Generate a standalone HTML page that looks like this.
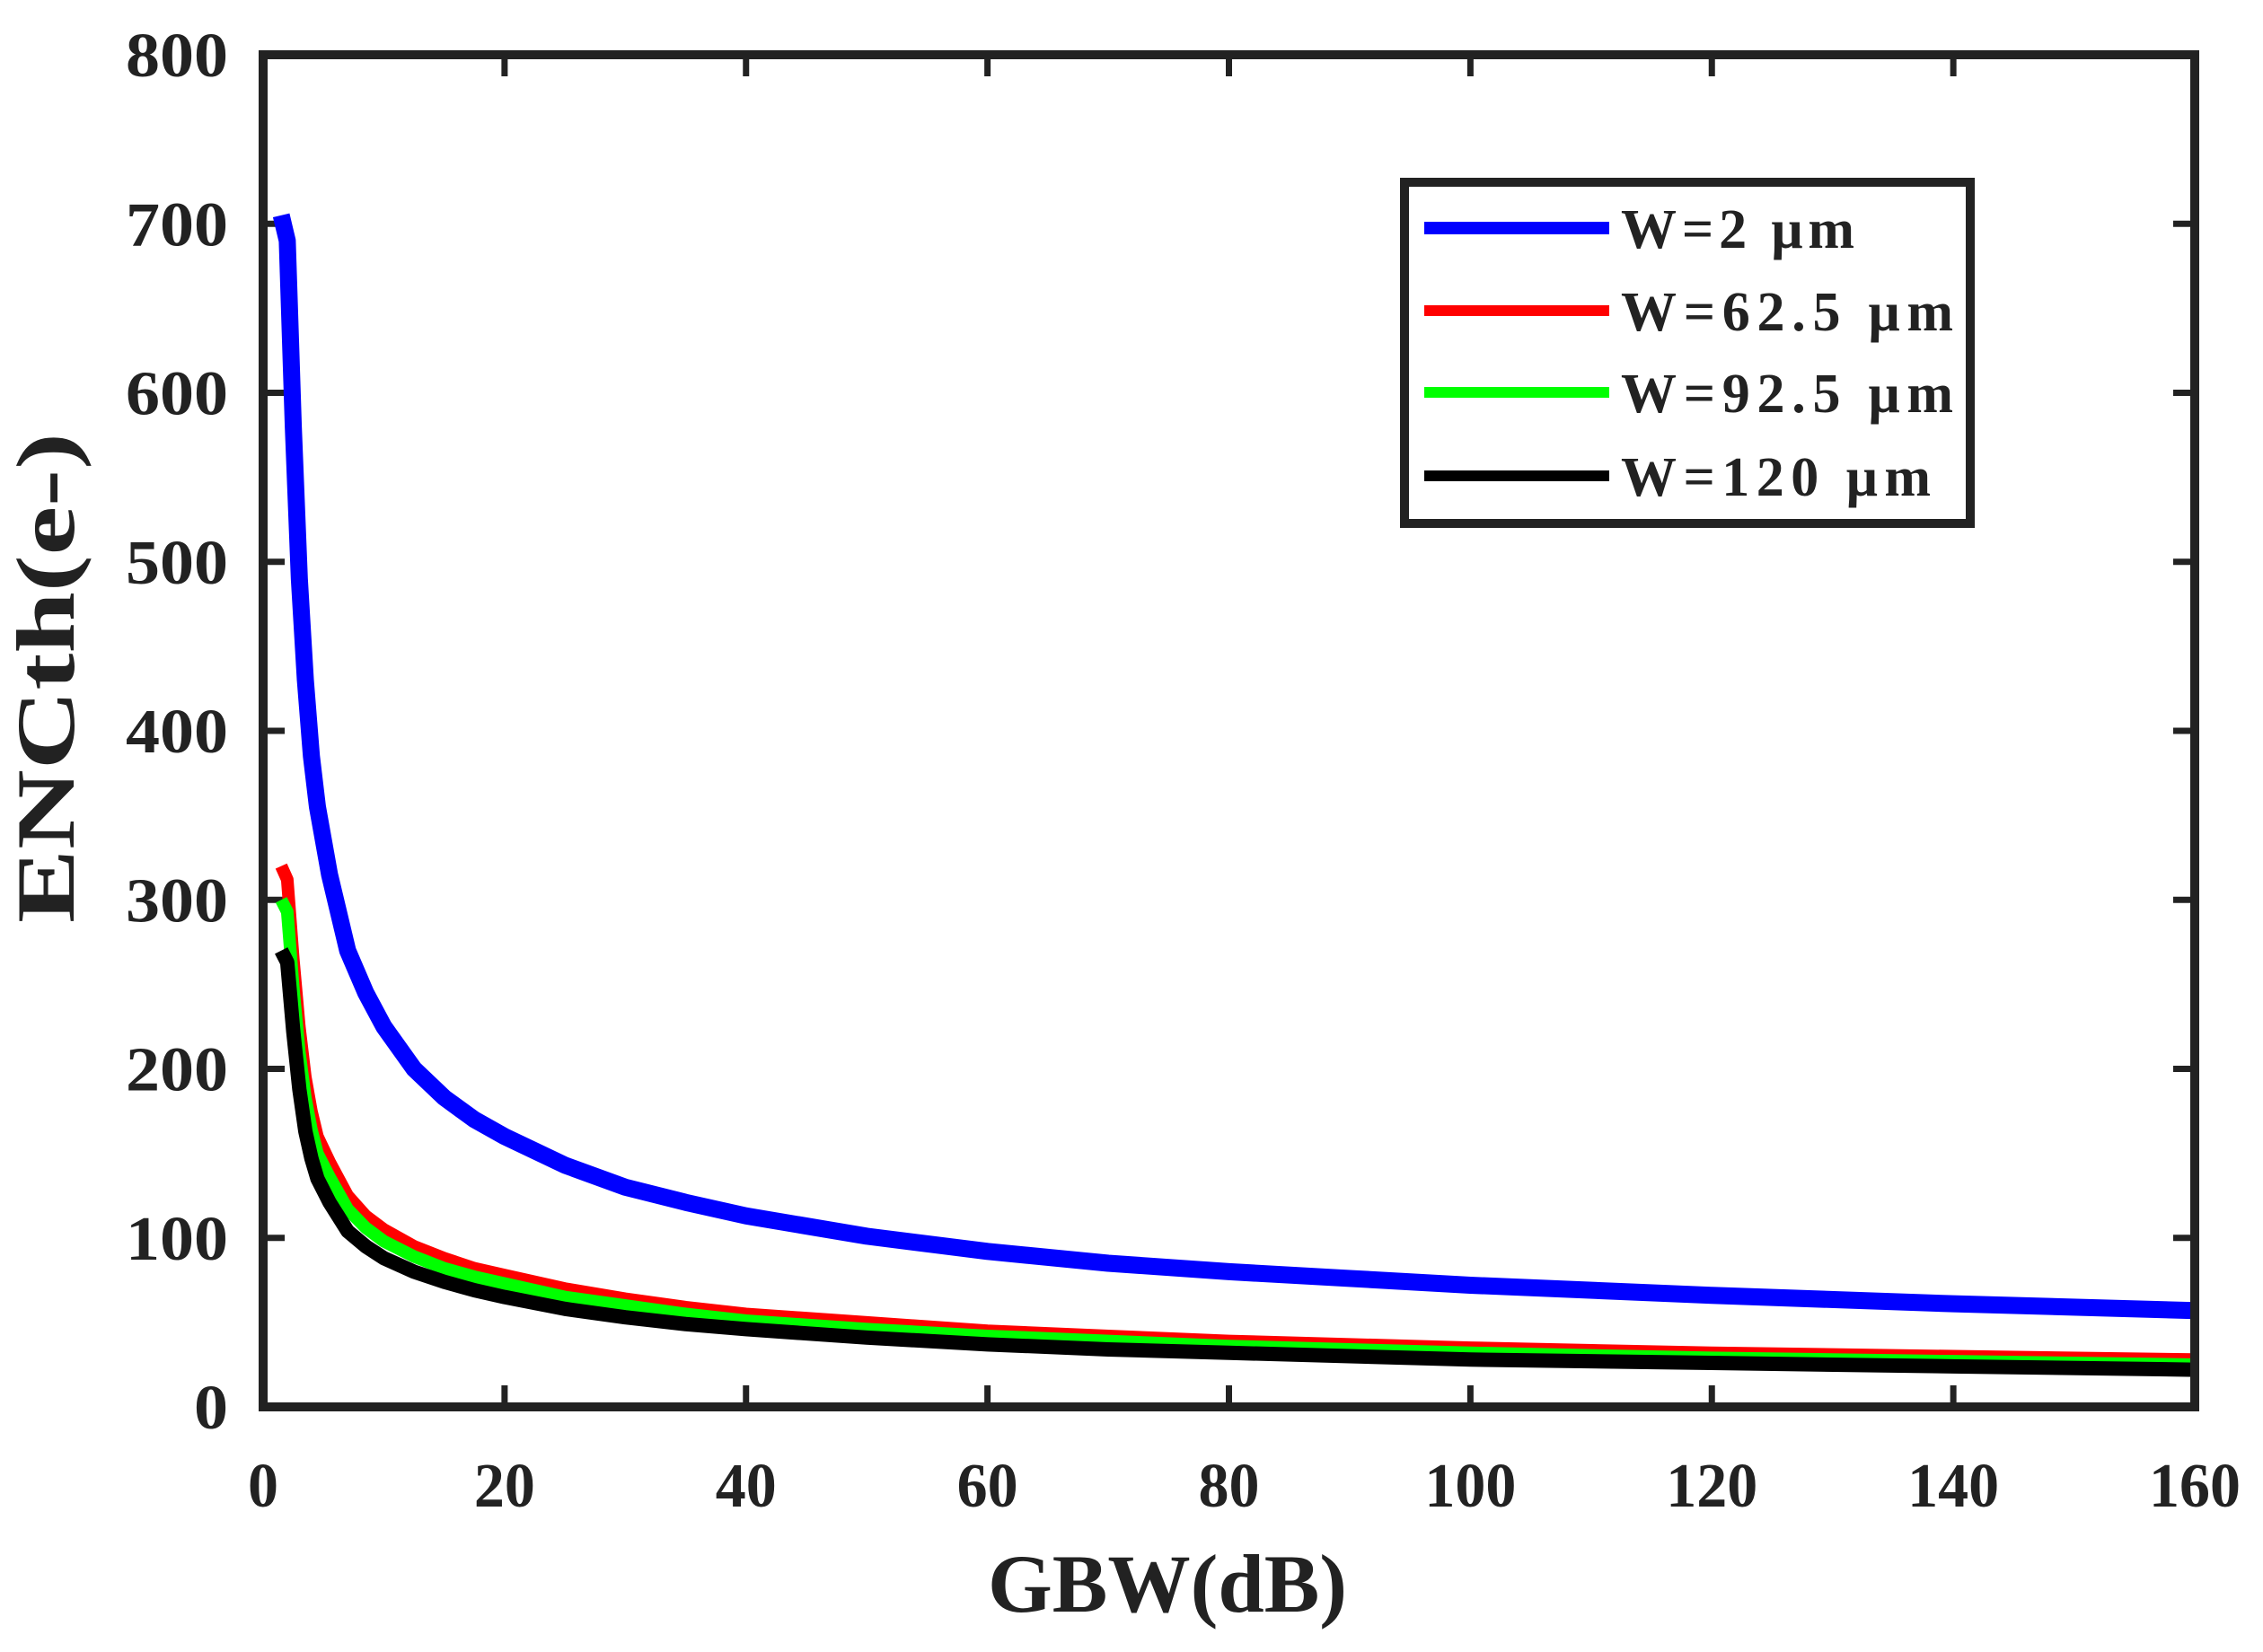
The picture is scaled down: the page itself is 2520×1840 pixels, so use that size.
<!DOCTYPE html>
<html><head><meta charset="utf-8"><style>
html,body{margin:0;padding:0;background:#fff;}
svg{display:block;}
text{font-family:"Liberation Serif",serif;font-weight:bold;fill:#222;}
</style></head><body>
<svg id="chart" width="2520" height="1840" viewBox="0 0 2520 1840">
<g id="grid"></g>
<g id="series"></g>
<g id="frame"></g>
<text x="1300" y="1795" text-anchor="middle" font-size="92" textLength="400" lengthAdjust="spacingAndGlyphs">GBW(dB)</text>
<text transform="translate(82,755) rotate(-90)" text-anchor="middle" font-size="92" textLength="546" lengthAdjust="spacingAndGlyphs">ENCth(e-)</text>
<g id="legend"></g>
</svg>
<script>
const xTicks=[0,20,40,60,80,100,120,140,160];
const yTicks=[0,100,200,300,400,500,600,700,800];
const xs=[1.5,2,2.5,3,3.5,4,4.5,5.5,7,8.5,10,12.5,15,17.5,20,25,30,35,40,50,60,70,80,90,100,120,140,160];
const blue=[705,690,580,490,430,385,355,315,270,245,225,200,183,170,160,143,130,121,113,101,92,85,80,76,72,66,61,57];
const red=[320,312,265,225,195,175,160,145,125,113,105,95,88,82,78,70,64,59,55,50,45,42,39,37,35,32,30,28];
const green=[300,293,248,210,183,164,150,136,117,106,98,89,82,77,73,65,60,55,51,46,42,39,36,34,32,29,27,25];
const black=[270,263,222,188,163,147,135,121,104,95,88,80,74,69,65,58,53,49,46,41,37,34,32,30,28,26,24,22];
const names=["W=2 \u03bcm","W=62.5 \u03bcm","W=92.5 \u03bcm","W=120 \u03bcm"];
const NS="http://www.w3.org/2000/svg";
const L=293,R=2444,T=61,B=1567;
const X=v=>L+(v-0)/(160-0)*(R-L);
const Y=v=>B-(v-0)/(800-0)*(B-T);
function mk(tag,attrs,parent){const e=document.createElementNS(NS,tag);for(const k in attrs)e.setAttribute(k,attrs[k]);parent.appendChild(e);return e;}
const grid=document.getElementById('grid'),frame=document.getElementById('frame'),ser=document.getElementById('series'),leg=document.getElementById('legend');
xTicks.forEach(t=>{
  const x=X(t);
  const a=mk('line',{x1:x,x2:x,y1:B,y2:B-24,stroke:'#222','stroke-width':7},grid);
  
  
  const b=mk('line',{x1:x,x2:x,y1:T,y2:T+24,stroke:'#222','stroke-width':7},grid);
  
  
  const tx=mk('text',{x:x,y:1678,'text-anchor':'middle','font-size':70,textLength:String(t).length*34,lengthAdjust:'spacingAndGlyphs'},grid);
  tx.textContent=t;
  
  
});
yTicks.forEach(t=>{
  const y=Y(t);
  const a=mk('line',{x1:L,x2:L+24,y1:y,y2:y,stroke:'#222','stroke-width':7},grid);
  
  
  const b=mk('line',{x1:R,x2:R-24,y1:y,y2:y,stroke:'#222','stroke-width':7},grid);
  
  
  const tx=mk('text',{x:254,y:y+24,'text-anchor':'end','font-size':70,textLength:String(t).length*38,lengthAdjust:'spacingAndGlyphs'},grid);
  tx.textContent=t;
  
  
});
const colors=['#0000ff','#ff0000','#00ff00','#000000'];
const widths=[19,14,14,16];
const data=[blue,red,green,black];
[0,1,2,3].forEach(i=>{
  const p=mk('polyline',{points:xs.map((x,j)=>X(x)+','+Y(data[i][j])).join(' '),fill:'none',stroke:colors[i],'stroke-width':widths[i],'stroke-linejoin':'round','stroke-linecap':'butt'},ser);
  
  
});
const fr=mk('rect',{x:L,y:T,width:R-L,height:B-T,fill:'none',stroke:'#222','stroke-width':10},frame);


const lb=mk('rect',{x:1564,y:203,width:630,height:380,fill:'#fff',stroke:'#222','stroke-width':10},leg);


const ly=[254,346,437,530];
const tl=[260,370,370,345];
names.forEach((n,i)=>{
  const l=mk('line',{x1:1586,x2:1792,y1:ly[i],y2:ly[i],stroke:colors[i],'stroke-width':i==0?14:12},leg);
  
  
  const t=mk('text',{x:1805,y:ly[i]+22,'font-size':62,textLength:tl[i],lengthAdjust:'spacing'},leg);
  t.textContent=n;
  
  
});
</script>
</body></html>
